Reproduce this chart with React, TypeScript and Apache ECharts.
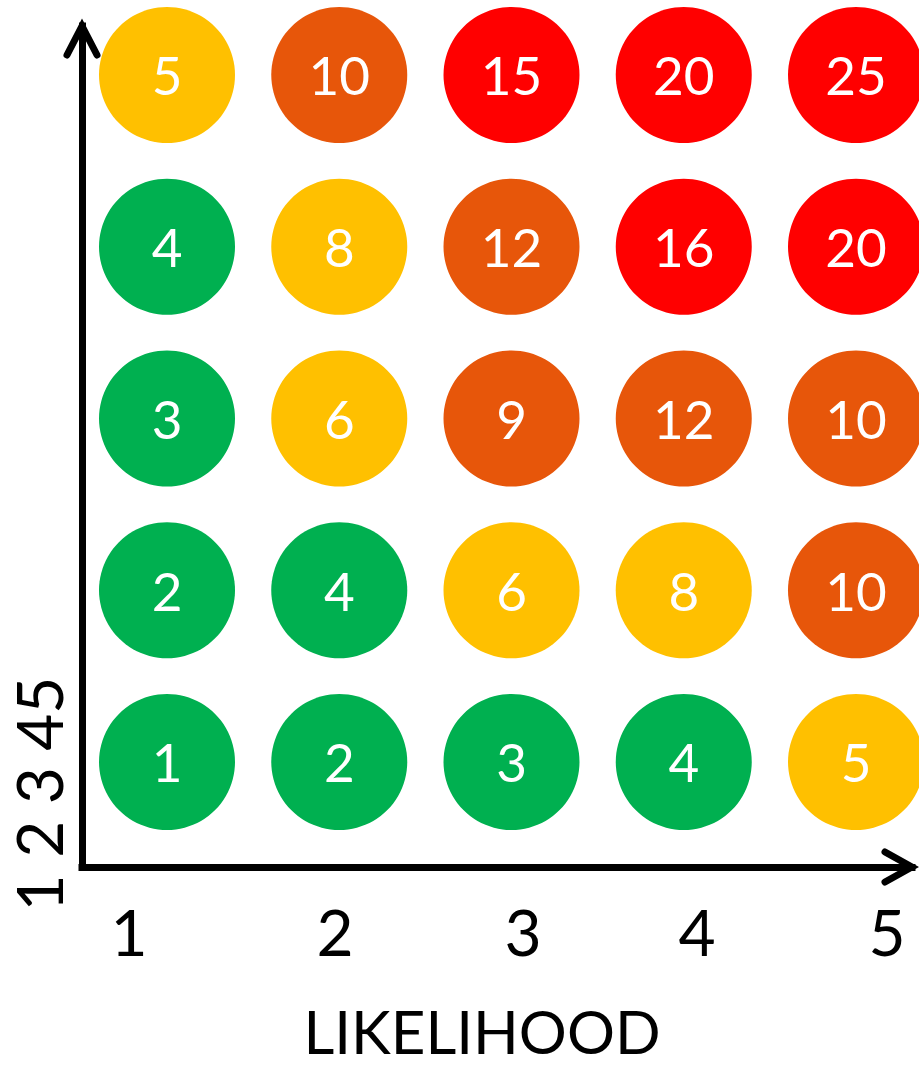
import React, { useEffect, useRef } from "react";
import * as echarts from "echarts";

// Likelihood (x) 1..5, impact (y) 1..5, score shown in circle
const likelihood = [1, 2, 3, 4, 5];
const impact = [1, 2, 3, 4, 5];
const scoresRow1 = [1, 2, 3, 4, 5];
const scoresRow2 = [2, 4, 6, 8, 10];
const scoresRow3 = [3, 6, 9, 12, 10];
const scoresRow4 = [4, 8, 12, 16, 20];
const scoresRow5 = [5, 10, 15, 20, 25];
const scoreRows = [scoresRow1, scoresRow2, scoresRow3, scoresRow4, scoresRow5];

const xTickLabels = ["1", "2", "3", "4", "5"];
const yAxisText = "1 2 3 45";
const xAxisTitle = "LIKELIHOOD";

const FONT = "Lato, 'Open Sans', sans-serif";
const W = 919;
const H = 1067;

export default function App() {
  const ref = useRef<HTMLDivElement>(null);

  useEffect(() => {
    document.body.style.margin = "0";
    if (!ref.current) return;
    const chart = echarts.init(ref.current, null, { renderer: "svg" });

    const data: number[][] = [];
    impact.forEach((y, yi) => {
      likelihood.forEach((x, xi) => {
        data.push([x, y, scoreRows[yi][xi]]);
      });
    });

    const xTickPos = [129, 335, 523, 697, 887];

    const option = {
      animation: false,
      backgroundColor: "#ffffff",
      grid: { left: 82, top: 26, right: 7, bottom: 200 },
      xAxis: {
        type: "value",
        min: 0.5065,
        max: 5.3251,
        axisLine: { show: true, onZero: false, lineStyle: { color: "#000", width: 7, cap: "square" } },
        axisTick: { show: false },
        axisLabel: { show: false },
        splitLine: { show: false },
      },
      yAxis: {
        type: "value",
        min: 0.3886,
        max: 5.2853,
        axisLine: { show: true, onZero: false, lineStyle: { color: "#000", width: 7, cap: "square" } },
        axisTick: { show: false },
        axisLabel: { show: false },
        splitLine: { show: false },
      },
      visualMap: {
        show: false,
        type: "piecewise",
        dimension: 2,
        pieces: [
          { min: 0, max: 4, color: "#00B050" },
          { min: 5, max: 8, color: "#FFC000" },
          { min: 9, max: 12, color: "#E7560A" },
          { min: 13, max: 100, color: "#FF0000" },
        ],
      },
      series: [
        {
          type: "scatter",
          data,
          symbol: "circle",
          symbolSize: 136,
          label: {
            show: true,
            position: "inside",
            formatter: (p: any) => String(p.value[2]),
            color: "#ffffff",
            fontFamily: FONT,
            fontSize: 53,
          },
          itemStyle: { opacity: 1 },
          emphasis: { disabled: true },
        },
      ],
      graphic: [
        {
          type: "polyline",
          shape: { points: [[67, 55], [82, 26], [97, 55]] },
          style: { stroke: "#000", lineWidth: 7, fill: "none", lineCap: "round", lineJoin: "miter" },
        },
        {
          type: "polyline",
          shape: { points: [[885, 852], [912, 867], [885, 882]] },
          style: { stroke: "#000", lineWidth: 7, fill: "none", lineCap: "round", lineJoin: "miter" },
        },
        ...xTickLabels.map((t, i) => ({
          type: "text",
          x: xTickPos[i],
          y: 931,
          style: {
            text: t,
            fill: "#000",
            font: `64px ${FONT}`,
            align: "center",
            verticalAlign: "middle",
          },
        })),
        {
          type: "text",
          x: 38,
          y: 794,
          rotation: Math.PI / 2,
          style: {
            text: yAxisText,
            fill: "#000",
            font: `64px ${FONT}`,
            align: "center",
            verticalAlign: "middle",
          },
        },
        {
          type: "text",
          x: 482,
          y: 1031,
          style: {
            text: xAxisTitle,
            fill: "#000",
            font: `60px ${FONT}`,
            lineHeight: 50,
            align: "center",
            verticalAlign: "middle",
          },
        },
      ],
    };

    chart.setOption(option as any);
    return () => chart.dispose();
  }, []);

  return <div ref={ref} style={{ width: W, height: H }} />;
}
